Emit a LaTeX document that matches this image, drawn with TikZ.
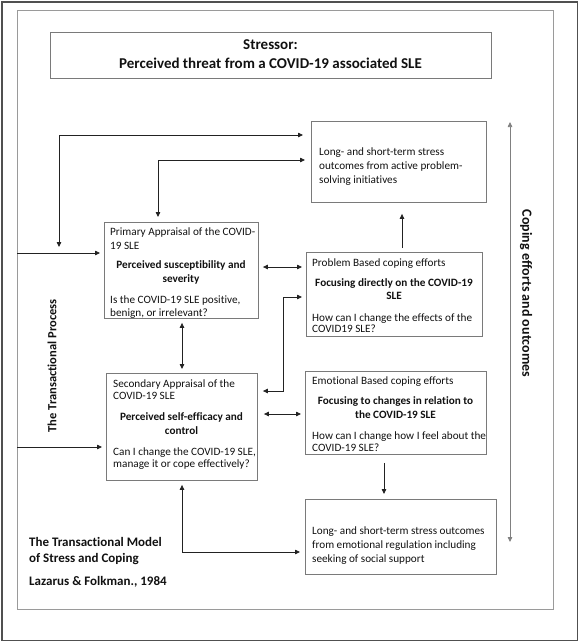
\documentclass[tikz,border=0pt]{standalone}
\usepackage{fontspec}
\setmainfont[Ligatures=NoCommon]{Carlito}
\usetikzlibrary{arrows.meta,calc}
\definecolor{boxgray}{HTML}{7A7A7A}
\definecolor{framegray}{HTML}{9A9A9A}
\definecolor{outergray}{HTML}{505050}
\definecolor{linecol}{HTML}{222222}
\definecolor{txtcol}{HTML}{111111}
\begin{document}
\begin{tikzpicture}[x=1pt,y=-1pt,
  box/.style={draw=boxgray, line width=0.9pt, inner sep=0pt, anchor=north west},
  ln/.style={anchor=base west, inner sep=0pt, text=txtcol, font=\fontsize{11.2}{14}\selectfont},
  lnb/.style={anchor=base, inner sep=0pt, text=txtcol, font=\fontsize{11.2}{14}\selectfont\bfseries},
  arr/.style={draw=linecol, line width=0.75pt, -{Triangle[length=5pt,width=4.5pt]}},
  dbl/.style={draw=linecol, line width=0.75pt, {Triangle[length=5pt,width=4.5pt]}-{Triangle[length=5pt,width=4.5pt]}},
]
\useasboundingbox (0,0) rectangle (578,641);
% outer border
\node[draw=outergray, line width=1.6pt, inner sep=0pt, anchor=north west, minimum width=576pt, minimum height=639pt] (outer) at (1,1) {};
% inner frame
\node[draw=framegray, line width=1.1pt, inner sep=0pt, anchor=north west, minimum width=536pt, minimum height=599pt] (frame) at (17,10) {};

% boxes
\node[box, minimum width=441pt, minimum height=46pt] (str) at (50,32) {};
\node[box, minimum width=175pt, minimum height=81pt] (lt1) at (311,121) {};
\node[box, minimum width=154pt, minimum height=96pt] (prim) at (104,222) {};
\node[box, minimum width=176pt, minimum height=84pt] (prob) at (306,252) {};
\node[box, minimum width=151pt, minimum height=107pt] (sec) at (106,373) {};
\node[box, minimum width=181pt, minimum height=83pt] (emo) at (305,371) {};
\node[box, minimum width=191pt, minimum height=75pt] (lt2) at (305,499) {};

% stressor text
\node[lnb, font=\fontsize{15}{17}\selectfont\bfseries] (strA) at (270.5,49.5) {Stressor:};
\node[lnb, font=\fontsize{15}{17}\selectfont\bfseries] (strB) at (270.5,68.5) {Perceived threat from a COVID-19 associated SLE};

% LT1
\node[ln] (lt1a) at (319,155) {Long- and short-term stress};
\node[ln] (lt1b) at (319,169) {outcomes from active problem-};
\node[ln] (lt1c) at (319,183) {solving initiatives};

% primary
\node[ln] (pa1) at (110,235) {Primary Appraisal of the COVID-};
\node[ln] (pa2) at (110,249) {19 SLE};
\node[lnb] (pa3) at (181,268) {Perceived susceptibility and};
\node[lnb] (pa4) at (181,282) {severity};
\node[ln] (pa5) at (110,303) {Is the COVID-19 SLE positive,};
\node[ln] (pa6) at (110,316) {benign, or irrelevant?};

% problem
\node[ln] (pb1) at (312,266) {Problem Based coping efforts};
\node[lnb] (pb2) at (394,286) {Focusing directly on the COVID-19};
\node[lnb] (pb3) at (394,299) {SLE};
\node[ln] (pb4) at (312,321) {How can I change the effects of the};
\node[ln] (pb5) at (312,332) {COVID19 SLE?};

% secondary
\node[ln] (sa1) at (113,387) {Secondary Appraisal of the};
\node[ln] (sa2) at (113,399) {COVID-19 SLE};
\node[lnb] (sa3) at (181.5,420) {Perceived self-efficacy and};
\node[lnb] (sa4) at (181.5,434) {control};
\node[ln] (sa5) at (113,455) {Can I change the COVID-19 SLE,};
\node[ln] (sa6) at (113,467) {manage it or cope effectively?};

% emotional
\node[ln] (eb1) at (312,384) {Emotional Based coping efforts};
\node[lnb] (eb2) at (395.5,404) {Focusing to changes in relation to};
\node[lnb] (eb3) at (395.5,418) {the COVID-19 SLE};
\node[ln] (eb4) at (312,439) {How can I change how I feel about the};
\node[ln] (eb5) at (312,451) {COVID-19 SLE?};

% LT2
\node[ln] (lt2a) at (312,534) {Long- and short-term stress outcomes};
\node[ln] (lt2b) at (312,548) {from emotional regulation including};
\node[ln] (lt2c) at (312,562) {seeking of social support};

% model caption
\node[ln, font=\fontsize{13}{15}\selectfont\bfseries] (m1) at (29,546) {The Transactional Model};
\node[ln, font=\fontsize{13}{15}\selectfont\bfseries] (m2) at (29,562) {of Stress and Coping};
\node[ln, font=\fontsize{13}{15}\selectfont\bfseries] (m3) at (29,585) {Lazarus \& Folkman., 1984};

% rotated labels
\node[inner sep=0pt, rotate=90, text=txtcol, font=\fontsize{12.5}{15}\selectfont\bfseries] (tproc) at (52,366) {The Transactional Process};
\node[inner sep=0pt, rotate=-90, text=txtcol, font=\fontsize{14}{16}\selectfont\bfseries] (coping) at (526,293.5) {Coping efforts and outcomes};

% coordinates
\coordinate (c1) at (59,247);
\coordinate (pa) at ($(prim.north west)+(-4,31)$);
\coordinate (sa) at ($(sec.north west)+(-4,74)$);
\coordinate (ct) at (510,122);
\coordinate (cb) at (510,542);

% connectors
\draw[dbl] (c1) |- ($(lt1.north west)+(-8,14)$);
\draw[dbl] ($(prim.north west)+(54,-5)$) |- ($(lt1.north west)+(-6,39)$);
\draw[arr] (frame.west |- pa) -- (pa);
\draw[arr] (frame.west |- sa) -- (sa);
\draw[dbl] ($(prim.north east)+(4,45)$) -- ($(prob.north west)+(-4,15)$);
\draw[arr] ($(prob.north west)+(96,-4)$) -- ($(lt1.south west)+(91,11)$);
\draw[dbl] ($(prim.south west)+(78,4)$) -- ($(sec.north west)+(76,-4)$);
\draw[dbl] ($(sec.north east)+(5,18)$) -| ($(prob.north west)+(-23,45)$) -- ($(prob.north west)+(-4,45)$);
\draw[dbl] ($(sec.north east)+(6,41)$) -- ($(emo.north west)+(-4,43)$);
\draw[arr] ($(emo.south west)+(79,8)$) -- ($(lt2.north west)+(79,-5)$);
\draw[dbl] ($(sec.south west)+(76,4)$) |- ($(lt2.north west)+(-5,53)$);
\draw[dbl, draw=gray] (ct) -- (cb);
\end{tikzpicture}
\end{document}
